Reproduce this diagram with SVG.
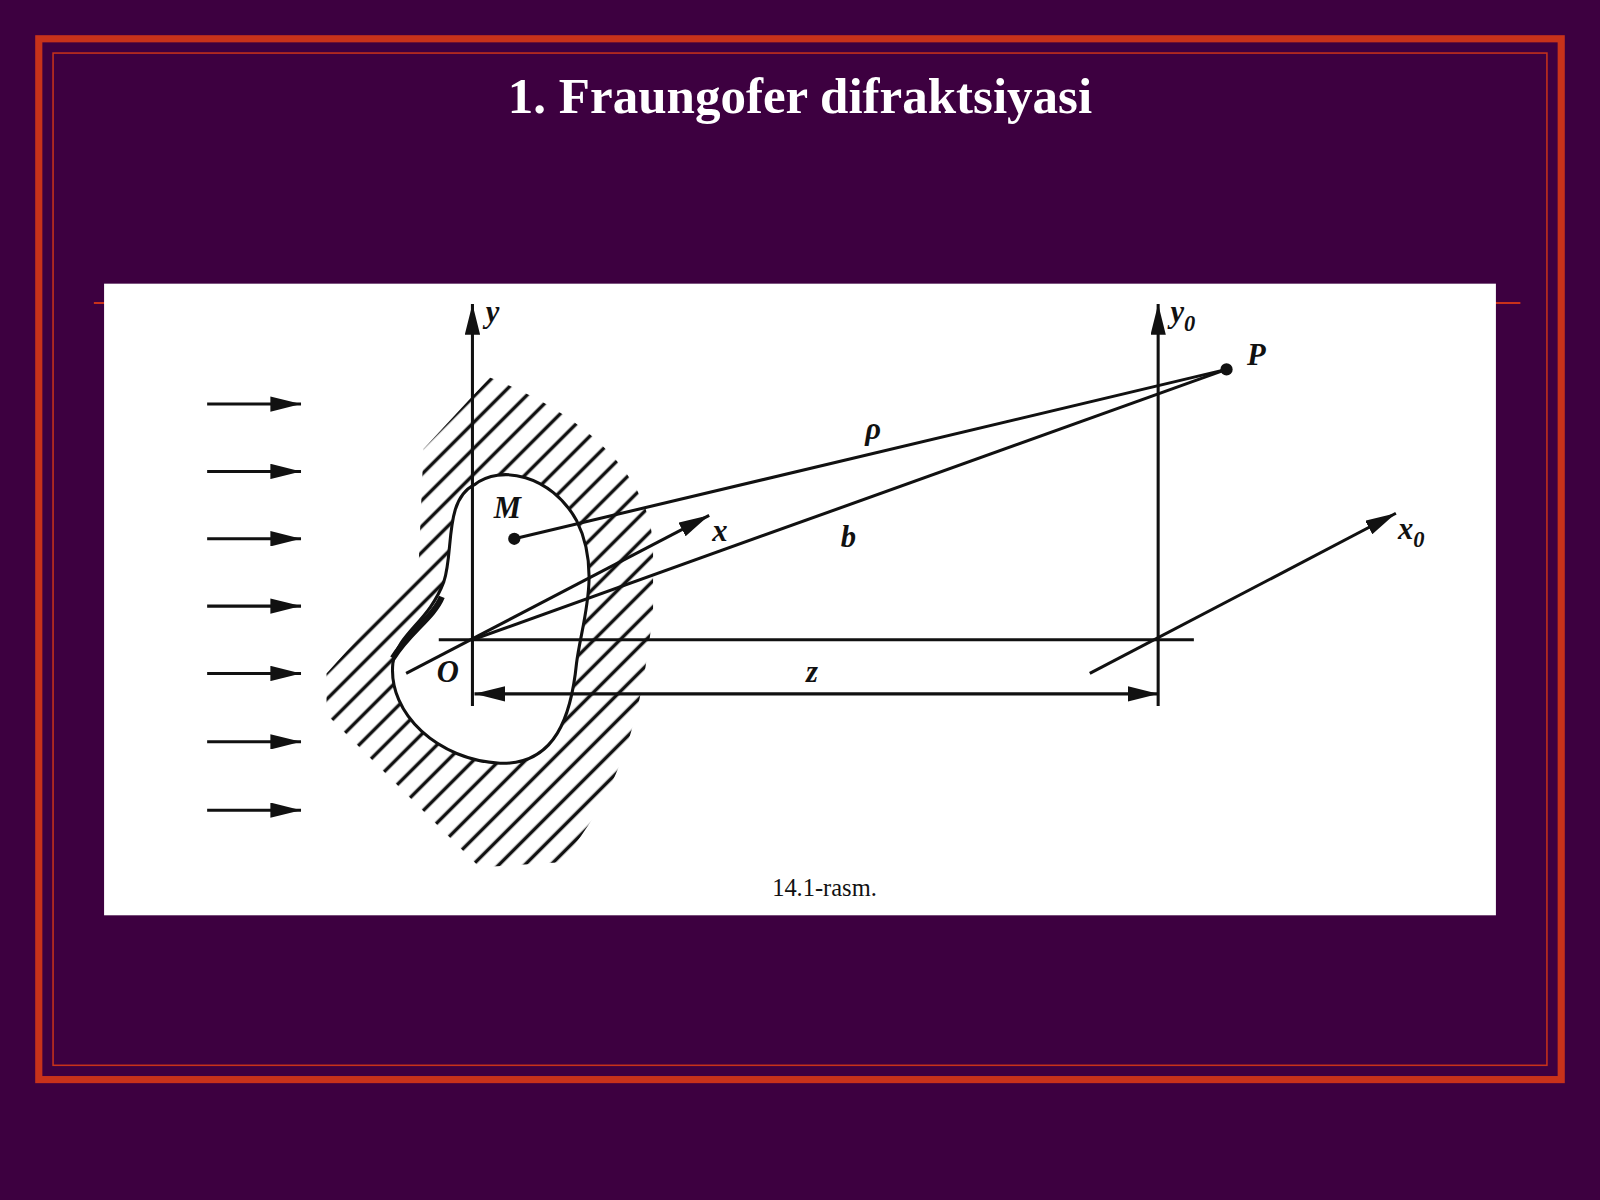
<svg xmlns="http://www.w3.org/2000/svg" width="1600" height="1200" viewBox="0 0 1600 1200">
<defs>
<style>
.ln{stroke:#111;stroke-width:3;fill:none}
.lbl{font-family:"Liberation Serif",serif;font-style:italic;font-weight:bold;font-size:30px;fill:#111}
</style>
<marker id="ah" viewBox="0 0 20 10" refX="20" refY="5" markerWidth="10" markerHeight="5" markerUnits="strokeWidth" orient="auto-start-reverse"><path d="M0,0 L20,5 L0,10 Z" fill="#111"/></marker>
<pattern id="hatch" patternUnits="userSpaceOnUse" width="18" height="18" patternTransform="rotate(-45)"><line x1="0" y1="9" x2="18" y2="9" stroke="#111" stroke-width="3.4"/></pattern>
</defs>
<rect width="1600" height="1200" fill="#3d0040"/>
<g transform="scale(1.0204)">
<rect x="38" y="38" width="1492" height="1020" fill="none" stroke="#c8321a" stroke-width="7"/>
<rect x="52" y="52" width="1464" height="992" fill="none" stroke="#c8321a" stroke-width="1.5"/>
<line x1="92" y1="297" x2="1490" y2="297" stroke="#c8321a" stroke-width="2"/>
<text x="784" y="111" text-anchor="middle" font-family="Liberation Serif,serif" font-weight="bold" font-size="50" fill="#fff">1. Fraungofer difraktsiyasi</text>
<rect x="102" y="278" width="1364" height="619" fill="#fff"/>
<g id="screen">
<path fill="url(#hatch)" fill-rule="evenodd" d="M415,440 L480,370 C560,400 640,460 640,540 L640,600 C630,680 620,760 550,845 L470,850 L320,700 L320,660 L410,560 Z M465,475 C490,455 540,465 565,510 C590,560 570,610 565,650 C560,700 545,750 490,748 C430,745 380,700 385,650 C390,620 420,610 435,570 C445,540 435,490 465,475 Z"/>
<path class="ln" d="M465,475 C490,455 540,465 565,510 C590,560 570,610 565,650 C560,700 545,750 490,748 C430,745 380,700 385,650 C390,620 420,610 435,570 C445,540 435,490 465,475 Z"/>
<path d="M385,645 C400,620 425,605 433,585" stroke="#111" stroke-width="6" fill="none"/>
</g>
<g id="connectors">
<line class="ln" x1="203" y1="396" x2="295" y2="396" marker-end="url(#ah)"/>
<line class="ln" x1="203" y1="462" x2="295" y2="462" marker-end="url(#ah)"/>
<line class="ln" x1="203" y1="528" x2="295" y2="528" marker-end="url(#ah)"/>
<line class="ln" x1="203" y1="594" x2="295" y2="594" marker-end="url(#ah)"/>
<line class="ln" x1="203" y1="660" x2="295" y2="660" marker-end="url(#ah)"/>
<line class="ln" x1="203" y1="727" x2="295" y2="727" marker-end="url(#ah)"/>
<line class="ln" x1="203" y1="794" x2="295" y2="794" marker-end="url(#ah)"/>
<line class="ln" x1="463" y1="692" x2="463" y2="298" marker-end="url(#ah)"/>
<line class="ln" x1="1135" y1="692" x2="1135" y2="298" marker-end="url(#ah)"/>
<line class="ln" x1="430" y1="627" x2="1170" y2="627"/>
<line class="ln" x1="465" y1="680" x2="1135" y2="680" marker-start="url(#ah)" marker-end="url(#ah)"/>
<line class="ln" x1="398" y1="660" x2="695" y2="505" marker-end="url(#ah)"/>
<line class="ln" x1="1068" y1="660" x2="1368" y2="503" marker-end="url(#ah)"/>
<line class="ln" x1="504" y1="528" x2="1202" y2="362"/>
<line class="ln" x1="463" y1="627" x2="1202" y2="362"/>
<circle cx="504" cy="528" r="6" fill="#111"/>
<circle cx="1202" cy="362" r="6" fill="#111"/>
</g>
<g id="labels">
<text class="lbl" x="476" y="316">y</text>
<text class="lbl" x="1147" y="316">y<tspan font-size="22" dy="8">0</tspan></text>
<text class="lbl" x="1222" y="358">P</text>
<text class="lbl" x="848" y="430">ρ</text>
<text class="lbl" x="484" y="508">M</text>
<text class="lbl" x="698" y="530">x</text>
<text class="lbl" x="824" y="536">b</text>
<text class="lbl" x="1370" y="528">x<tspan font-size="22" dy="8">0</tspan></text>
<text class="lbl" x="428" y="668">O</text>
<text class="lbl" x="790" y="668">z</text>
<text x="808" y="878" text-anchor="middle" font-family="Liberation Serif,serif" font-size="24" fill="#111">14.1-rasm.</text>
</g>
</g>
</svg>
